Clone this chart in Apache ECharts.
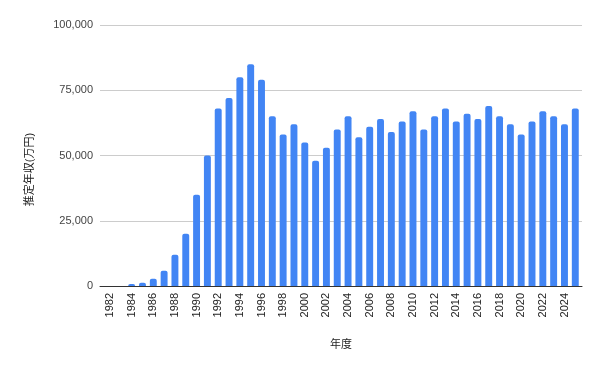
<!DOCTYPE html>
<html><head><meta charset="utf-8">
<script src="https://cdn.jsdelivr.net/npm/echarts@6/dist/echarts.min.js"></script>
<style>html,body{margin:0;padding:0;background:#fff}#c{width:601px;height:371px}</style>
</head><body><div id="c"></div>
<script>
const years = ['1982','1983','1984','1985','1986','1987','1988','1989','1990','1991','1992','1993','1994','1995','1996','1997','1998','1999','2000','2001','2002','2003','2004','2005','2006','2007','2008','2009','2010','2011','2012','2013','2014','2015','2016','2017','2018','2019','2020','2021','2022','2023','2024','2025'];
const income = [0,0,800,1200,2800,5800,12000,20000,35000,50000,68000,72000,80000,85000,79000,65000,58000,62000,55000,48000,53000,60000,65000,57000,61000,64000,59000,63000,67000,60000,65000,68000,63000,66000,64000,69000,65000,62000,58000,63000,67000,65000,62000,68000];
const yTicks = [0,25000,50000,75000,100000];
const xName = '年度';
const yName = '推定年収(万円)';

const chart = echarts.init(document.getElementById('c'), null, {renderer:'canvas'});
const font = '"Liberation Sans", Arial, "Noto Sans CJK JP", sans-serif';
const yMin = yTicks[0], yMax = yTicks[yTicks.length-1];
chart.setOption({
  animation:false,
  backgroundColor:'#fff',
  textStyle:{fontFamily:font},
  grid:[
    {left:100,right:19,top:25,bottom:85,containLabel:false},
    {left:104.6,right:20.3,top:25,bottom:85,containLabel:false}
  ],
  xAxis:[{
    gridIndex:0, type:'category', data:years,
    name:xName, nameLocation:'middle', nameGap:53,
    nameTextStyle:{fontSize:11,color:'#222',fontFamily:font},
    axisLine:{lineStyle:{color:'#333',width:1}},
    axisTick:{show:false},
    axisLabel:{show:false}
  },{
    gridIndex:1, type:'category', data:years,
    axisLine:{show:false},
    axisTick:{show:false},
    axisLabel:{interval:1,rotate:90,fontSize:11,color:'#222',margin:7,fontFamily:font}
  }],
  yAxis:[{
    gridIndex:0, type:'value', min:yMin, max:yMax, interval:25000,
    name:yName, nameLocation:'middle', nameGap:65, nameRotate:90,
    nameTextStyle:{fontSize:11,color:'#222',fontFamily:font,padding:[0,28,0,0]},
    axisLine:{show:false}, axisTick:{show:false},
    axisLabel:{fontSize:11,color:'#444',margin:7,fontFamily:font,
      formatter:v=>v.toLocaleString('en-US')},
    splitLine:{lineStyle:{color:'#ccc',width:1}}
  },{
    gridIndex:1, type:'value', min:yMin, max:yMax, interval:25000,
    axisLine:{show:false}, axisTick:{show:false}, axisLabel:{show:false}, splitLine:{show:false}
  }],
  series:[{
    type:'bar', xAxisIndex:1, yAxisIndex:1, data:income, barCategoryGap:'36%',
    itemStyle:{color:'#4285F4',borderRadius:[2,2,0,0]}
  }]
});
</script></body></html>
